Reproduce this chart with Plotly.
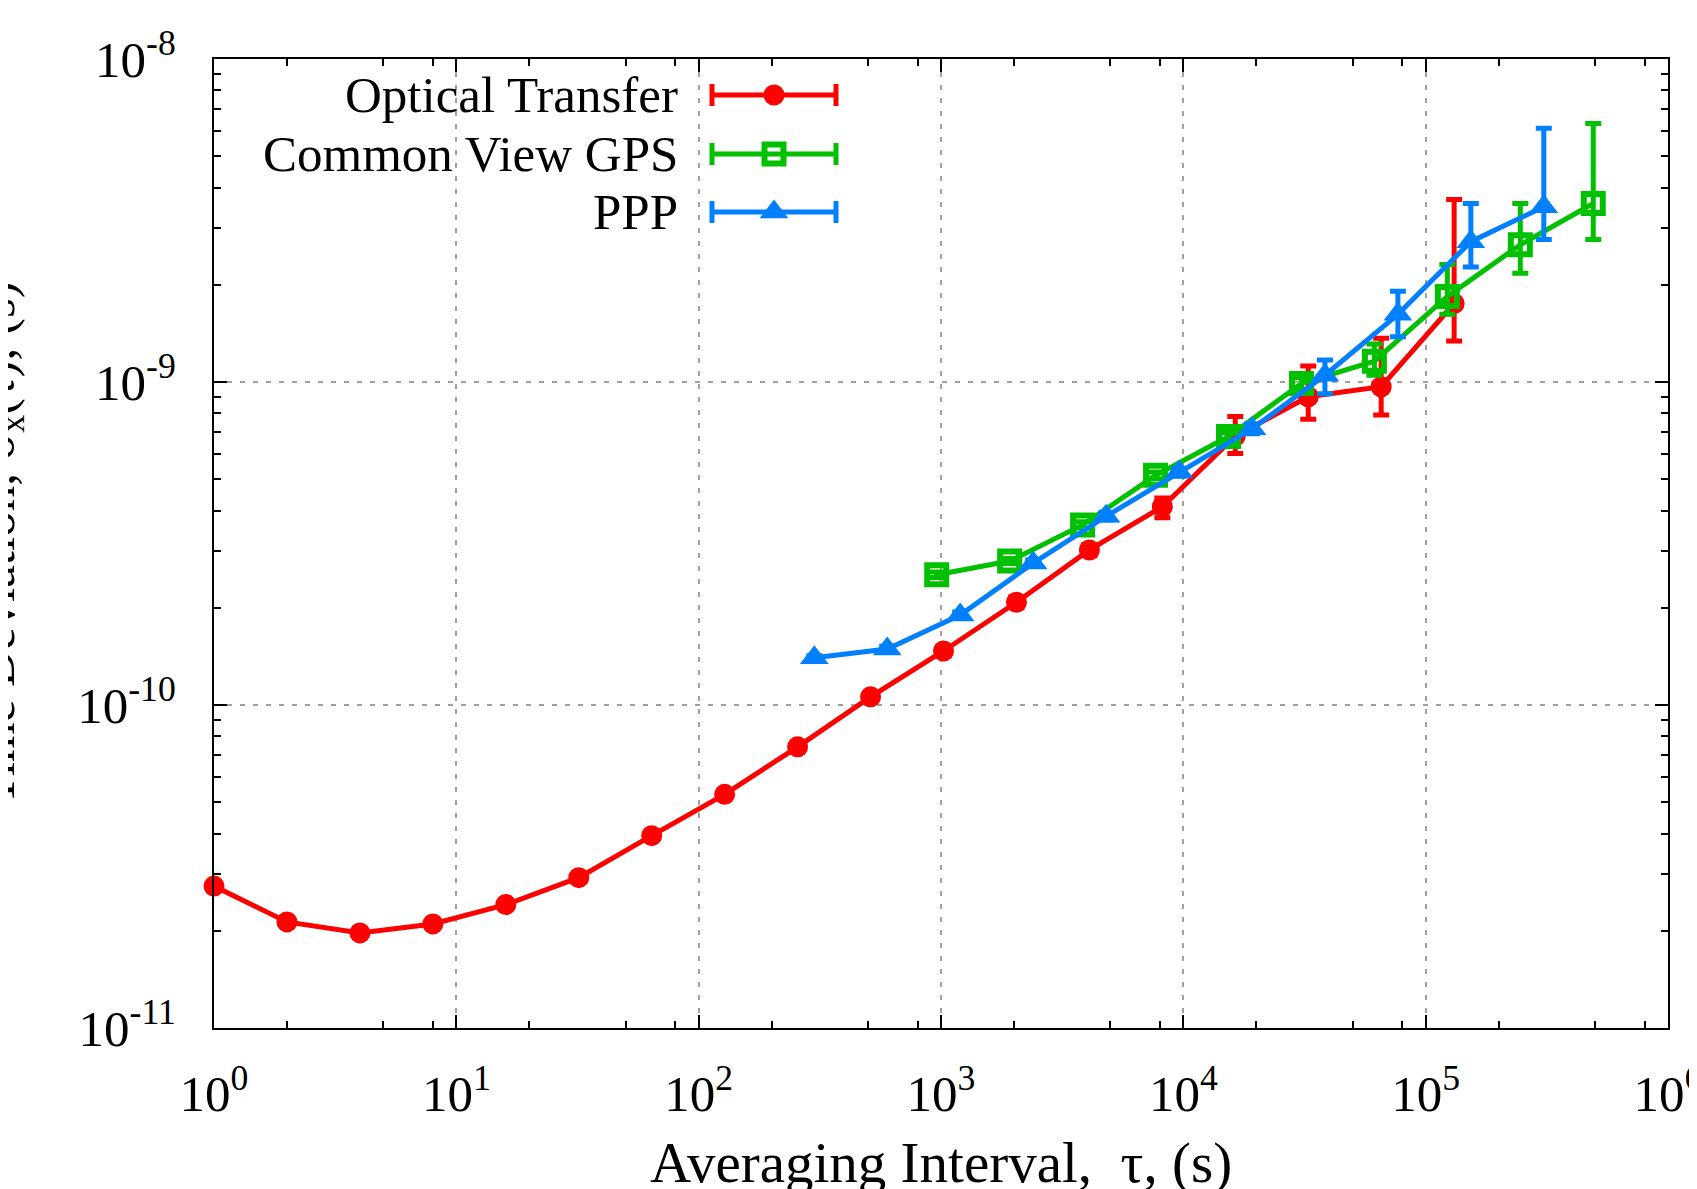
import plotly.graph_objects as go

# ---------------- data ----------------
opt_tau = [1, 2, 4, 8, 16, 32, 64, 128, 256, 512, 1024, 2048, 4096, 8192,
           16384, 32768, 65536, 131072]
opt_tdev = [2.75e-11, 2.13e-11, 1.97e-11, 2.10e-11, 2.41e-11, 2.92e-11, 3.94e-11,
            5.29e-11, 7.42e-11, 1.06e-10, 1.47e-10, 2.08e-10, 3.02e-10, 4.11e-10,
            6.80e-10, 9.00e-10, 9.67e-10, 1.75e-9]
opt_err_plus = [0.3e-12, 0.2e-12, 0.2e-12, 0.2e-12, 0.3e-12, 0.4e-12, 0.6e-12,
                1.0e-12, 1.5e-12, 3.0e-12, 5.0e-12, 8.0e-12, 1.2e-11, 2.6e-11,
                1.02e-10, 2.2e-10, 4.0e-10, 1.92e-9]
opt_err_minus = [0.3e-12, 0.2e-12, 0.2e-12, 0.2e-12, 0.3e-12, 0.4e-12, 0.6e-12,
                 1.0e-12, 1.5e-12, 3.0e-12, 5.0e-12, 8.0e-12, 1.2e-11, 3.1e-11,
                 0.79e-10, 1.33e-10, 1.76e-10, 0.41e-9]

cv_tau = [960, 1920, 3840, 7680, 15360, 30720, 61440, 122880, 245760, 491520]
cv_tdev = [2.53e-10, 2.79e-10, 3.61e-10, 5.14e-10, 6.78e-10, 9.90e-10, 1.16e-9,
           1.84e-9, 2.66e-9, 3.57e-9]
cv_err_plus = [0.5e-11, 0.5e-11, 0.8e-11, 1.2e-11, 2.0e-11, 4.0e-11, 1.5e-10,
               0.47e-9, 0.91e-9, 2.74e-9]
cv_err_minus = [0.5e-11, 0.5e-11, 0.8e-11, 1.2e-11, 2.0e-11, 4.0e-11, 1.1e-10,
                0.22e-9, 0.49e-9, 0.81e-9]

ppp_tau = [300, 600, 1200, 2400, 4800, 9600, 19200, 38400, 76800, 153600, 307200]
ppp_tdev = [1.40e-10, 1.49e-10, 1.90e-10, 2.75e-10, 3.84e-10, 5.26e-10, 7.16e-10,
            1.05e-9, 1.62e-9, 2.72e-9, 3.49e-9]
ppp_err_plus = [0.2e-11, 0.3e-11, 0.4e-11, 0.6e-11, 1.0e-11, 1.5e-11, 2.5e-11,
                0.12e-9, 0.29e-9, 0.85e-9, 2.61e-9]
ppp_err_minus = [0.2e-11, 0.3e-11, 0.4e-11, 0.6e-11, 1.0e-11, 1.5e-11, 2.5e-11,
                 0.13e-9, 0.24e-9, 0.45e-9, 0.73e-9]

x_tickvals = [1, 10, 100, 1000, 1e4, 1e5, 1e6]
x_ticktext = ["10<sup>0</sup>", "10<sup>1</sup>", "10<sup>2</sup>", "10<sup>3</sup>",
              "10<sup>4</sup>", "10<sup>5</sup>", "10<sup>6</sup>"]
y_tickvals = [1e-11, 1e-10, 1e-9, 1e-8]
y_ticktext = ["10<sup>-11</sup>", "10<sup>-10</sup>", "10<sup>-9</sup>", "10<sup>-8</sup>"]

series_names = ["Optical Transfer", "Common View GPS", "PPP"]

# ---------------- style ----------------
FONT = "Liberation Serif"
FS_TICK = 51
FS_KEY = 51
FS_TITLE = 57
RED, GREEN, BLUE = "#ff0000", "#00c000", "#0080ff"
PAGE_OFF = 8                      # browser body margin
W, H = 1697 - PAGE_OFF, 1189 - PAGE_OFF
L, R, T, B = 214 - PAGE_OFF, 29, 59 - PAGE_OFF, 161
LW = 5
plot_w = W - L - R
plot_h = H - T - B

x_minor = [m * 10 ** e for e in range(0, 6) for m in (2, 5, 8)]
y_minor = [m * 10.0 ** e for e in range(-11, -8) for m in range(2, 10)]

colors = [RED, GREEN, BLUE]
symbols = [("circle", 21, 0), ("square-open", 19, 6), ("triangle-up", 25, 0)]

fig = go.Figure()

def add_series(x, y, ep, em, i):
    sym, sz, ml = symbols[i]
    fig.add_trace(go.Scatter(
        x=x, y=y, name=series_names[i], mode="lines+markers",
        line=dict(color=colors[i], width=LW),
        marker=dict(symbol=sym, size=sz, color=colors[i],
                    line=dict(color=colors[i], width=ml)),
        error_y=dict(type="data", symmetric=False, array=ep, arrayminus=em,
                     color=colors[i], thickness=LW, width=8),
        cliponaxis=False, showlegend=False,
    ))

add_series(opt_tau, opt_tdev, opt_err_plus, opt_err_minus, 0)
add_series(cv_tau, cv_tdev, cv_err_plus, cv_err_minus, 1)
add_series(ppp_tau, ppp_tdev, ppp_err_plus, ppp_err_minus, 2)

# ---------------- gnuplot-style key (text left of sample) ----------------
# positions below are in page pixels
key_rows_px = [95, 154, 212]
key_sample_px = (712, 836)
key_text_right_px = 680

def px2fx(p):
    return (p - PAGE_OFF - L) / plot_w

def py2fy(p):
    return (H - B - (p - PAGE_OFF)) / plot_h

cx = px2fx((key_sample_px[0] + key_sample_px[1]) / 2)
half = px2fx(key_sample_px[1]) - cx
for i in range(3):
    sym, sz, ml = symbols[i]
    fig.add_trace(go.Scatter(
        x=[cx], y=[py2fy(key_rows_px[i])], mode="markers",
        xaxis="x2", yaxis="y2",
        marker=dict(symbol=sym, size=sz, color=colors[i],
                    line=dict(color=colors[i], width=ml)),
        error_x=dict(type="constant", value=half, color=colors[i],
                     thickness=LW, width=11),
        showlegend=False, hoverinfo="skip", cliponaxis=False,
    ))
    fig.add_annotation(
        text=series_names[i], xref="paper", yref="paper",
        x=px2fx(key_text_right_px), y=py2fy(key_rows_px[i]),
        xanchor="right", yanchor="middle", showarrow=False,
        font=dict(family=FONT, size=FS_KEY, color="black"),
    )

# opaque key background (covers grid lines)
fig.add_shape(type="rect", xref="paper", yref="paper",
              x0=px2fx(216), x1=px2fx(860), y0=py2fy(243), y1=py2fy(61),
              fillcolor="white", line=dict(width=0), layer="between")

# ---------------- axis titles ----------------
fig.add_annotation(
    text="Averaging Interval,  τ, (s)", xref="paper", yref="paper",
    x=0.5, y=py2fy(1163), xanchor="center", yanchor="middle", showarrow=False,
    font=dict(family=FONT, size=FS_TITLE, color="black"),
)
fig.add_annotation(
    text="Time Deviation, σ<sub>x</sub>(τ), (s)", xref="paper", yref="paper",
    x=0, xshift=-(214 - 34), y=0.5, xanchor="right", yanchor="middle",
    textangle=-90, showarrow=False,
    font=dict(family=FONT, size=FS_KEY, color="black"),
)

grid = dict(showgrid=True, gridcolor="#a0a0a0", gridwidth=2, griddash="5px,8px")
common = dict(showline=True, linecolor="black", linewidth=2, mirror="allticks",
              ticks="inside", ticklen=13, tickwidth=2, tickcolor="black",
              zeroline=False, ticklabeloverflow="allow", automargin=False,
              tickfont=dict(family=FONT, size=FS_TICK, color="black"),
              **grid)

fig.update_layout(
    width=W, height=H,
    margin=dict(l=L, r=R, t=T, b=B, autoexpand=False),
    paper_bgcolor="white", plot_bgcolor="white",
    font=dict(family=FONT, size=FS_TICK, color="black"),
    xaxis=dict(type="log", range=[0, 6], tickmode="array",
               tickvals=x_tickvals, ticktext=x_ticktext,
               ticklabelstandoff=20,
               minor=dict(tickmode="array", tickvals=x_minor, ticks="inside",
                          ticklen=7, tickwidth=2, tickcolor="black", showgrid=False),
               **common),
    yaxis=dict(type="log", range=[-11, -8], tickmode="array",
               tickvals=y_tickvals, ticktext=y_ticktext,
               ticklabelstandoff=26,
               minor=dict(tickmode="array", tickvals=y_minor, ticks="inside",
                          ticklen=7, tickwidth=2, tickcolor="black", showgrid=False),
               **common),
    xaxis2=dict(overlaying="x", range=[0, 1], visible=False, fixedrange=True),
    yaxis2=dict(overlaying="y", range=[0, 1], visible=False, fixedrange=True),
    showlegend=False,
)

fig.write_html("out.html")
